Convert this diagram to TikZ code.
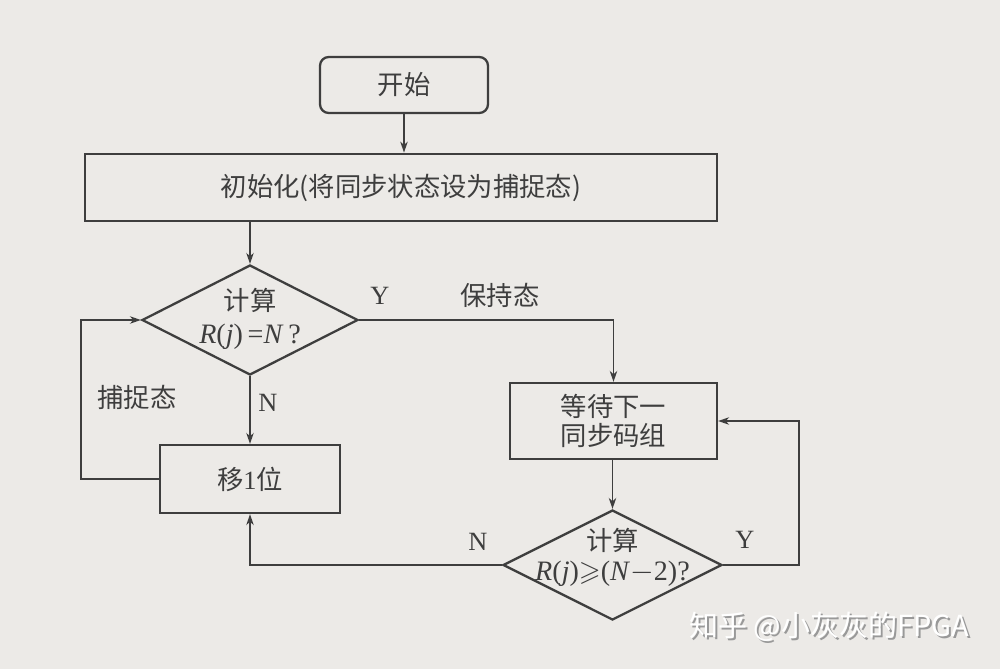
\documentclass[tikz,border=0pt]{standalone}
\usepackage{fontspec}
\usepackage{amssymb}
\setmainfont{Liberation Serif}
\newfontfamily\cjk{Noto Sans CJK SC}
\usetikzlibrary{shapes.geometric,arrows.meta}
\definecolor{paper}{RGB}{236,234,231}
\definecolor{ink}{RGB}{62,62,62}

\begin{document}
\begin{tikzpicture}[
  box/.style={draw=ink, line width=1.3pt, rectangle, inner sep=0pt},
  dec/.style={draw=ink, line width=1.3pt, diamond, inner sep=0pt},
  line/.style={draw=ink, line width=0.9pt},
  arr/.style={line, -{Stealth[length=2.2mm,width=1.5mm]}},
  txt/.style={text=ink, font=\cjk\fontsize{15}{17}\selectfont},
  lab/.style={text=ink, font=\rmfamily\fontsize{15}{17}\selectfont}
]
\fill[paper] (0,0) rectangle (20,13.38);
\useasboundingbox (0,0) rectangle (20,13.38);

\node[box, rounded corners=5pt, minimum width=3.36cm, minimum height=1.12cm, txt] (start) at (8.08,11.68) {开始};
\node[box, line width=1.6pt, minimum width=12.64cm, minimum height=1.34cm, txt] (init) at (8.02,9.63) {初始化(将同步状态设为捕捉态)};

\node[dec, minimum width=4.32cm, minimum height=2.2cm] (d1) at (5.0,6.98) {};
\node[txt, align=center] (d1text) at (5.0,7.0) {计算\\[2pt]{\rmfamily\fontsize{16}{18}\selectfont\textit{R}(\textit{j})\,=\textit{N}\,?}};

\node[box, minimum width=4.14cm, minimum height=1.52cm, txt, align=center] (wait) at (12.27,4.96) {等待下一\\同步码组};
\node[box, minimum width=3.6cm, minimum height=1.36cm, txt] (move) at (5.0,3.80) {移{\rmfamily 1}位};

\node[dec, minimum width=4.38cm, minimum height=2.2cm] (d2) at (12.25,2.08) {};
\node[txt, align=center] (d2text) at (12.25,2.24) {计算\\{\rmfamily\fontsize{16}{18}\selectfont\textit{R}(\textit{j})$\geqslant$(\textit{N}$-$2)?}};

% connectors
\draw[arr] (start.south) -- (start.south |- init.north);
\draw[arr] (d1.north |- init.south) -- (d1.north);
\draw[arr] (d1.east) -| (wait.north);
\draw[arr] (d1.south) -- (move.north);
\draw[arr] (move.west) -- ++(-1.56,0) |- (d1.west);
\draw[arr] (d2.north |- wait.south) -- (d2.north);
\draw[arr] (d2.west) -| (move.south);
\draw[arr] (d2.east) -- ++(1.52,0) |- (wait.east);

% labels
\node[lab] (y1) at (7.6,7.46) {Y};
\node[txt] (hold) at (10.0,7.48) {保持态};
\node[txt] (catch) at (2.74,5.44) {捕捉态};
\node[lab] (n1) at (5.36,5.32) {N};
\node[lab] (n2) at (9.56,2.54) {N};
\node[lab] (y2) at (14.9,2.58) {Y};

% watermark
\node[font=\cjk\fontsize{16.5}{19}\selectfont, text=gray!80] (markshadow) at (16.62,0.81) {知乎 @小灰灰的FPGA};
\node[font=\cjk\fontsize{16.5}{19}\selectfont, text=white] (mark) at (16.58,0.84) {知乎 @小灰灰的FPGA};
\end{tikzpicture}
\end{document}
